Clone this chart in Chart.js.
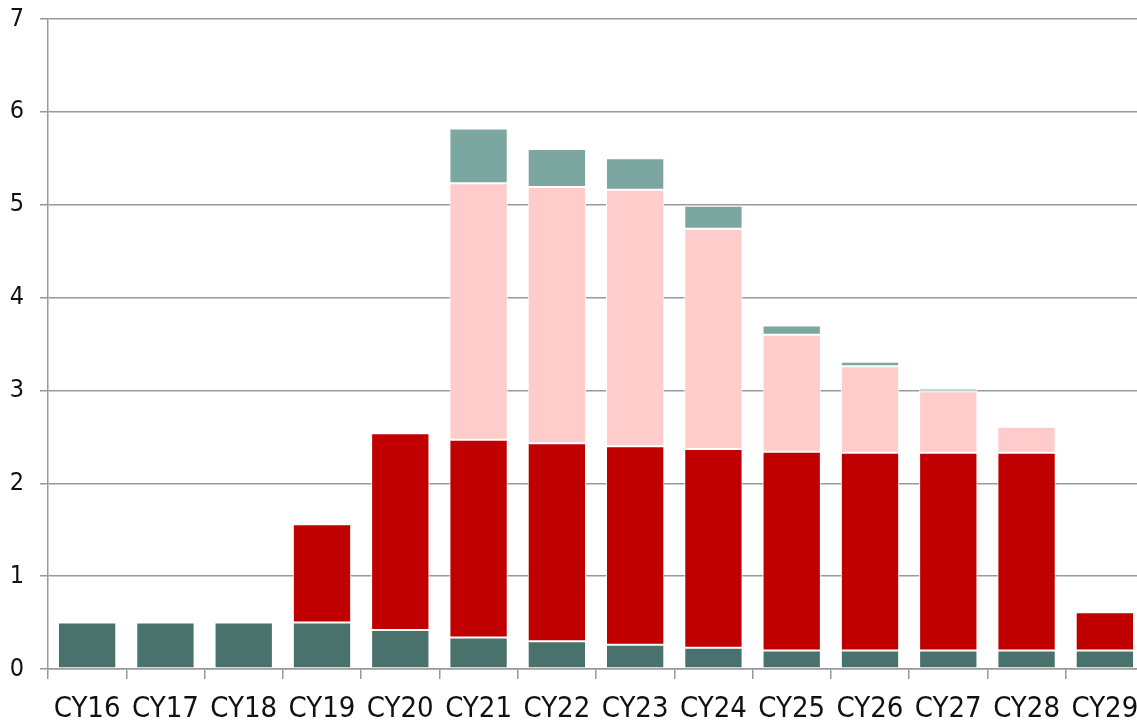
<!DOCTYPE html>
<html>
<head>
<meta charset="utf-8">
<script src="https://cdn.jsdelivr.net/npm/chart.js@4/dist/chart.umd.min.js"></script>
<style>
  html, body { margin: 0; padding: 0; background: #fff; overflow: hidden; }
  #wrap { width: 1137px; height: 724px; overflow: hidden; }
  canvas { display: block; }
</style>
</head>
<body>
<div id="wrap"><canvas id="chart" width="1144" height="724"></canvas></div>
<script>
// Calendar years on the category axis
const years = ['CY16','CY17','CY18','CY19','CY20','CY21','CY22','CY23','CY24','CY25','CY26','CY27','CY28','CY29'];

// Stacked components, bottom to top
const baseSeries  = [0.50, 0.50, 0.50, 0.50, 0.42, 0.34, 0.30, 0.26, 0.23, 0.20, 0.20, 0.20, 0.20, 0.20];
const redSeries   = [0,    0,    0,    1.06, 2.12, 2.13, 2.13, 2.14, 2.14, 2.14, 2.13, 2.13, 2.13, 0.41];
const pinkSeries  = [0,    0,    0,    0,    0,    2.76, 2.76, 2.76, 2.37, 1.26, 0.93, 0.66, 0.28, 0];
const topSeries   = [0,    0,    0,    0,    0,    0.59, 0.41, 0.34, 0.25, 0.10, 0.05, 0.03, 0,    0];

const yTicks = [0, 1, 2, 3, 4, 5, 6, 7];

const FONT = "'DejaVu Sans Condensed', 'Liberation Sans Narrow', sans-serif";
const AXIS_GREY = '#999999';

function series(data, color) {
  return {
    data: data,
    backgroundColor: color,
    borderColor: '#ffffff',
    borderWidth: 1,
    borderSkipped: false,
    barPercentage: 1,
    categoryPercentage: 0.745
  };
}

new Chart(document.getElementById('chart'), {
  type: 'bar',
  data: {
    labels: years,
    datasets: [
      series(baseSeries, '#4a726c'),
      series(redSeries,  '#c00000'),
      series(pinkSeries, '#ffcccc'),
      series(topSeries,  '#7ba7a0')
    ]
  },
  options: {
    responsive: false,
    animation: false,
    layout: { padding: { top: 19, right: 0, bottom: 0, left: 0 } },
    plugins: { legend: { display: false }, tooltip: { enabled: false } },
    scales: {
      x: {
        stacked: true,
        offset: true,
        grid: {
          offset: true,
          drawOnChartArea: false,
          drawTicks: true,
          tickLength: 10,
          color: AXIS_GREY,
          lineWidth: 1.5
        },
        border: { color: AXIS_GREY, width: 1.5 },
        ticks: {
          color: '#111',
          font: { family: FONT, size: 29 },
          padding: 13,
          maxRotation: 0,
          autoSkip: false
        },
        afterFit: (scale) => {
          scale.height = 55;
          scale.paddingLeft = 0;
          scale.paddingRight = 0;
        }
      },
      y: {
        stacked: true,
        min: 0,
        max: 7,
        afterBuildTicks: (scale) => { scale.ticks = yTicks.map(v => ({ value: v })); },
        grid: {
          color: AXIS_GREY,
          lineWidth: 1.5,
          tickLength: 8
        },
        border: { color: AXIS_GREY, width: 1.5 },
        ticks: {
          color: '#111',
          font: { family: FONT, size: 25 },
          padding: 16
        },
        afterFit: (scale) => {
          scale.width = 48;
          scale.paddingTop = 0;
          scale.paddingBottom = 0;
        }
      }
    }
  }
});
</script>
</body>
</html>
